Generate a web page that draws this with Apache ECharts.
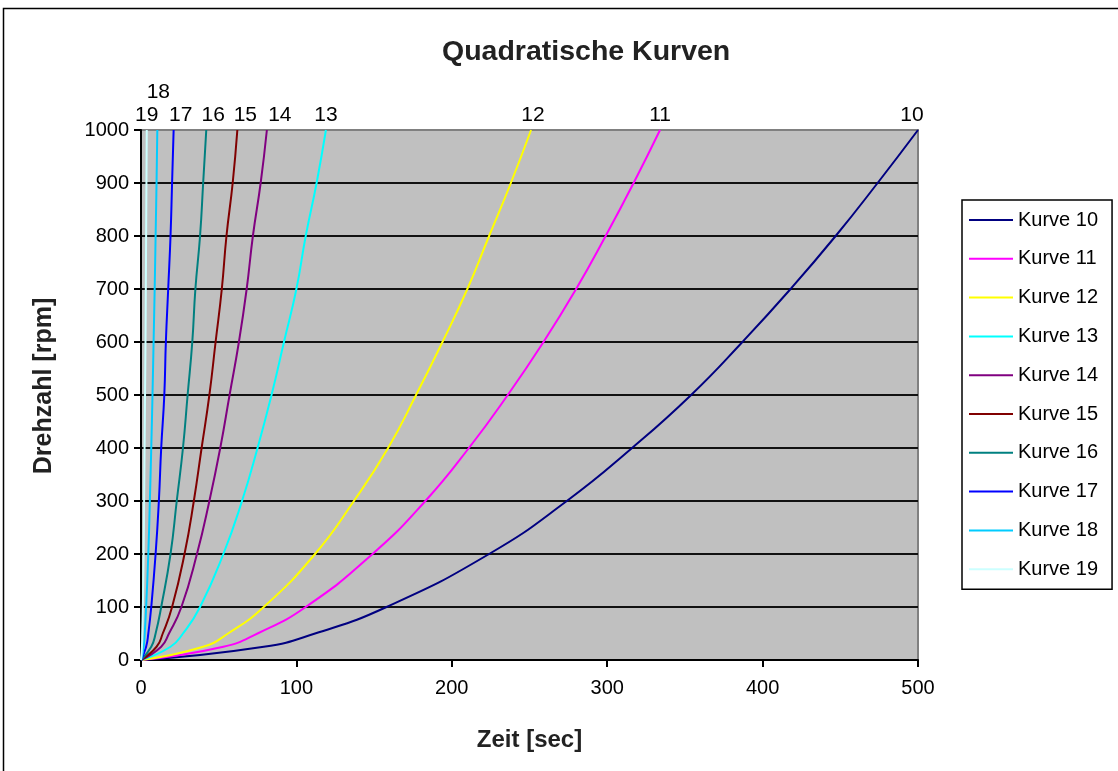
<!DOCTYPE html>
<html>
<head>
<meta charset="utf-8">
<title>Quadratische Kurven</title>
<script src="https://cdn.jsdelivr.net/npm/echarts@6/dist/echarts.min.js"></script>
<style>
  html, body { margin: 0; padding: 0; background: #fff; }
  #chart { width: 1118px; height: 771px; }
</style>
</head>
<body>
<div id="chart"></div>
<script>
// ── Daten ────────────────────────────────────────────────────
const RPM = [0, 25, 50, 100, 200, 300, 400, 500, 600, 700, 800, 900, 1000]

const K10 = [0, 79, 112, 158, 224, 274, 316, 354, 387, 418, 447, 474, 500]
const K11 = [0, 53, 75, 106, 149, 183, 211, 236, 259, 280, 299, 317, 334]
const K12 = [0, 40, 56, 79, 112, 137, 159, 177, 194, 210, 224, 238, 251]
const K13 = [0, 19, 27, 38, 53, 65, 75, 84, 92, 100, 106, 113, 119]
const K14 = [0, 13, 18, 26, 36, 44, 51, 57, 63, 68, 72, 77, 81]
const K15 = [0, 10, 14, 20, 28, 34, 39, 44, 48, 52, 55, 59, 62]
const K16 = [0, 6.6, 9.4, 13, 19, 23, 27, 30, 33, 35, 38, 40, 42]
const K17 = [0, 3.3, 4.7, 6.6, 9.4, 11.5, 13, 15, 16, 17.5, 19, 20, 21]
const K18 = [0, 1.7, 2.4, 3.3, 4.7, 5.7, 6.6, 7.4, 8.1, 8.8, 9.4, 10, 10.5]
const K19 = [0, 0.6, 0.8, 1.2, 1.7, 2, 2.3, 2.6, 2.9, 3.1, 3.3, 3.5, 3.7]

const CURVES = [K10, K11, K12, K13, K14, K15, K16, K17, K18, K19]
const NUMS   = ['10', '11', '12', '13', '14', '15', '16', '17', '18', '19']
const X_TICKS = [0, 100, 200, 300, 400, 500]
const Y_TICKS = [0, 100, 200, 300, 400, 500, 600, 700, 800, 900, 1000]

// ── Stil ─────────────────────────────────────────────────────
const COLORS = ['#000080', '#FF00FF', '#FFFF00', '#00FFFF', '#800080',
                '#800000', '#008080', '#0000FF', '#00CCFF', '#CCFFFF']
// Verschiebung der Endbeschriftungen (px)
const LABEL_SHIFT = [[-6, 0], [0, 0], [2, 0], [0, 0], [13, 0],
                     [8, 0], [7, 0], [7, 0], [1, -23], [0, 0]]
const FONT = '"Liberation Sans", Arial, sans-serif'

const series = CURVES.map((times, i) => {
  const last = times.length - 1
  return {
    name: 'Kurve ' + NUMS[i],
    type: 'line',
    symbol: 'none',
    smooth: true,
    color: COLORS[i],
    lineStyle: { color: COLORS[i], width: 2 },
    data: times.map((t, j) => [t, RPM[j]]),
    markPoint: {
      symbol: 'circle',
      symbolSize: 0,
      silent: true,
      label: {
        show: true,
        position: 'top',
        distance: 4,
        formatter: NUMS[i],
        color: '#000',
        fontFamily: FONT,
        fontSize: 21,
        offset: LABEL_SHIFT[i],
      },
      data: [{ coord: [times[last], RPM[last]] }],
    },
  }
})

const chart = echarts.init(document.getElementById('chart'), null, { renderer: 'canvas' })

chart.setOption({
  backgroundColor: '#fff',
  animation: false,
  textStyle: { fontFamily: FONT },
  title: {
    text: 'Quadratische Kurven',
    left: 437,
    top: 33,
    textStyle: { fontFamily: FONT, fontSize: 28.5, fontWeight: 'bold', color: '#222' },
  },
  graphic: [{
    type: 'rect',
    shape: { x: 3.5, y: 8.5, width: 1200, height: 900 },
    style: { fill: 'none', stroke: '#000', lineWidth: 1.5 },
    silent: true,
    z: -1,
  }],
  legend: {
    orient: 'vertical',
    left: 962,
    top: 200,
    padding: [10, 14, 10, 7],
    icon: 'rect',
    itemWidth: 44,
    itemHeight: 2,
    itemGap: 18.8,
    itemTextGap: 10,
    backgroundColor: '#fff',
    borderColor: '#000',
    borderWidth: 1.5,
    textStyle: { fontFamily: FONT, fontSize: 20, color: '#000', lineHeight: 20 },
    data: NUMS.map(n => 'Kurve ' + n),
  },
  grid: {
    left: 141,
    right: 200,
    top: 130,
    bottom: 111,
    show: true,
    backgroundColor: '#C0C0C0',
    borderColor: '#808080',
    borderWidth: 2,
  },
  xAxis: {
    type: 'value',
    min: X_TICKS[0],
    max: X_TICKS[X_TICKS.length - 1],
    interval: 100,
    name: 'Zeit [sec]',
    nameLocation: 'middle',
    nameGap: 68,
    nameTextStyle: { fontFamily: FONT, fontSize: 24, fontWeight: 'bold', color: '#222' },
    axisLine: { show: true, lineStyle: { color: '#000', width: 2 } },
    axisTick: { show: true, inside: false, length: 7, lineStyle: { color: '#000', width: 2 } },
    axisLabel: { fontFamily: FONT, fontSize: 20, color: '#000', margin: 18 },
    splitLine: { show: false },
  },
  yAxis: {
    type: 'value',
    min: Y_TICKS[0],
    max: Y_TICKS[Y_TICKS.length - 1],
    interval: 100,
    name: 'Drehzahl [rpm]',
    nameLocation: 'middle',
    nameRotate: 90,
    nameGap: 84,
    nameTextStyle: { fontFamily: FONT, fontSize: 25, fontWeight: 'bold', color: '#222', padding: [0, 0, 0, 18] },
    axisLine: { show: true, lineStyle: { color: '#000', width: 2 } },
    axisTick: { show: true, inside: false, length: 7, lineStyle: { color: '#000', width: 2 } },
    axisLabel: { fontFamily: FONT, fontSize: 20, color: '#000', margin: 12, formatter: v => String(v) },
    splitLine: { show: true, showMaxLine: false, lineStyle: { color: '#111', width: 2 } },
  },
  series,
})
</script>
</body>
</html>
